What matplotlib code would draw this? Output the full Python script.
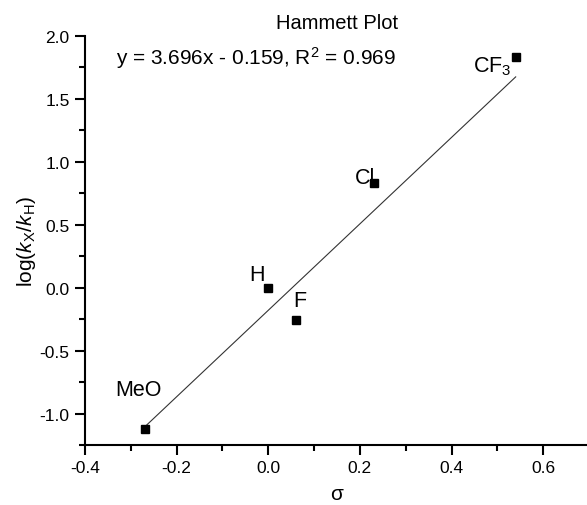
import matplotlib
matplotlib.use("Agg")
import matplotlib.pyplot as plt
from matplotlib.ticker import MultipleLocator

plt.rcParams['font.family'] = ['Liberation Sans', 'DejaVu Sans']
plt.rcParams['mathtext.fontset'] = 'custom'
plt.rcParams['mathtext.rm'] = 'Liberation Sans'
plt.rcParams['mathtext.it'] = 'Liberation Sans:italic'

# data
substituents = ['MeO', 'H', 'F', 'Cl', 'CF$_3$']
sigma = [-0.27, 0.00, 0.06, 0.23, 0.54]
log_ratio = [-1.12, 0.00, -0.26, 0.83, 1.83]
fit_x = [-0.265, 0.54]
fit_y = [-1.09, 1.675]
equation = 'y = 3.696x - 0.159, R$^2$ = 0.969'
label_offsets = [(-0.064, 0.267), (-0.042, 0.064), (-0.005, 0.116), (-0.042, -0.001), (-0.094, -0.108)]

fig = plt.figure(figsize=(5.87, 5.06), dpi=100)
ax = fig.add_axes([0.1448, 0.1186, 0.8586, 0.8083])

ax.plot(fit_x, fit_y, color='#333333', lw=0.8, zorder=2)
ax.plot(sigma, log_ratio, 's', color='black', ms=6, zorder=3)

for name, x, y, (dx, dy) in zip(substituents, sigma, log_ratio, label_offsets):
    ax.text(x + dx, y + dy, name, fontsize=15.5, ha='left', va='baseline')

ax.text(-0.332, 1.778, equation, fontsize=15, ha='left', va='baseline')

ax.set_xlim(-0.4, 0.7)
ax.set_ylim(-1.25, 2.0)
ax.xaxis.set_minor_locator(MultipleLocator(0.1))
ax.yaxis.set_minor_locator(MultipleLocator(0.25))
ax.set_xticks([-0.4, -0.2, 0.0, 0.2, 0.4, 0.6])
ax.set_xticklabels(['-0.4', '-0.2', '0.0', '0.2', '0.4', '0.6'])
ax.set_yticks([-1.0, -0.5, 0.0, 0.5, 1.0, 1.5, 2.0])
ax.set_yticklabels(['-1.0', '-0.5', '0.0', '0.5', '1.0', '1.5', '2.0'])

for s in ['top', 'right']:
    ax.spines[s].set_visible(False)
for s in ['left', 'bottom']:
    ax.spines[s].set_linewidth(1.5)
ax.tick_params(which='major', direction='out', length=7, width=1.5, labelsize=12.5, pad=4)
ax.tick_params(which='minor', direction='out', length=4, width=1.5)

ax.set_title('Hammett Plot', fontsize=14.5, pad=6)
ax.set_xlabel('σ', fontsize=15, labelpad=6)
ax.set_ylabel('log($k$$_\\mathrm{X}$/$k$$_\\mathrm{H}$)', fontsize=15, labelpad=1)

fig.savefig('out.png', dpi=100)
